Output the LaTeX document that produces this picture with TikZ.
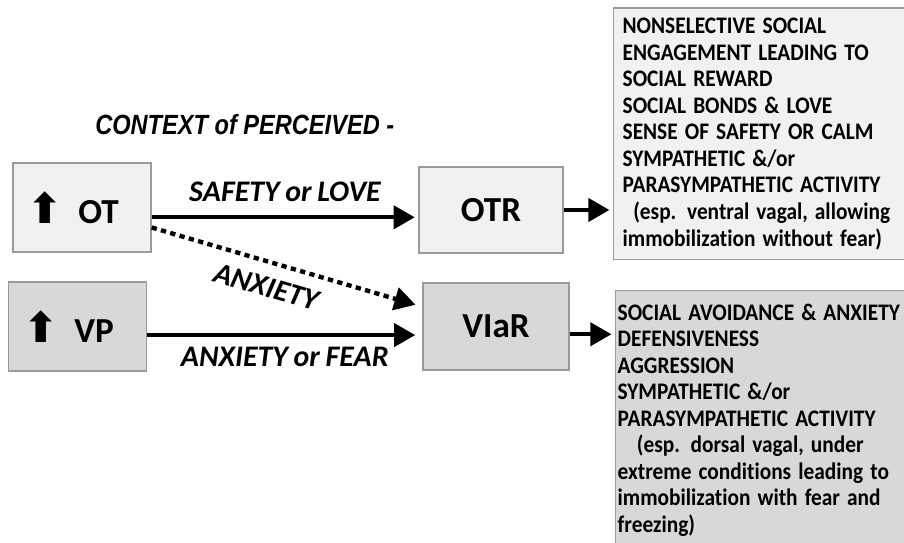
\documentclass[tikz,border=0pt]{standalone}
\usepackage{fontspec}
\setmainfont{Carlito}[WordSpace=0.85, RawFeature=-liga]
\newfontfamily\titlefont{Liberation Sans}
\newfontfamily\symfont{DejaVu Sans}
\usetikzlibrary{arrows.meta}
\definecolor{lightbox}{HTML}{F1F1F1}
\definecolor{darkbox}{HTML}{D8D8D8}
\definecolor{boxline}{HTML}{9A9A9A}
\newcommand{\uparr}{\scalebox{1.2}{\symfont\char"2B06}\hspace{0.44em}}
\begin{document}
\begin{tikzpicture}[
    hormone/.style={draw=boxline, line width=0.8pt, minimum width=2.76cm, minimum height=1.78cm,
        font=\fontsize{20}{24}\selectfont\bfseries},
    effects/.style={draw=boxline, line width=0.8pt, anchor=north west, text width=6.5cm, align=left,
        xscale=0.9, font=\fontsize{13.5}{15.1}\selectfont\bfseries},
    arr/.style={line width=2.5pt, -{Triangle[length=12pt,width=13pt]}},
    lbl/.style={font=\fontsize{17}{20}\selectfont\bfseries\itshape}
]
        \clip (0,0) rectangle (18.08,-10.86);

        % Title
        \node[anchor=base west, xscale=0.85, font=\titlefont\fontsize{15.8}{19}\selectfont\bfseries\itshape]
            (title) at (1.80,-2.70) {CONTEXT of PERCEIVED -};

        % Hormones and receptors
        \node[hormone, fill=lightbox] (OT) at (1.64,-4.15) {\uparr OT\kern10pt};
        \node[hormone, fill=darkbox] (VP) at (1.55,-6.53) {\uparr VP\kern10pt};
        \node[hormone, fill=lightbox, minimum width=2.88cm, minimum height=1.72cm] (OTR) at (9.82,-4.2) {OTR};
        \node[hormone, fill=darkbox, minimum width=2.92cm, minimum height=1.74cm] (VIaR) at (9.92,-6.53) {VIaR};

        % Outcomes
        \node[effects, fill=lightbox, inner xsep=5.7pt, inner ysep=5.7pt] (pos) at (12.26,-0.15) {NONSELECTIVE SOCIAL\\
            ENGAGEMENT LEADING TO\\ SOCIAL REWARD\\ SOCIAL BONDS \& LOVE\\ SENSE OF SAFETY OR CALM\\
            SYMPATHETIC \&/or\\ PARASYMPATHETIC ACTIVITY\\ \hspace*{0.5em}(esp. ventral vagal, allowing\\
            immobilization without fear)};
        \node[effects, fill=darkbox, inner xsep=1.3pt, inner ysep=7.4pt] (neg) at (12.30,-5.80) {SOCIAL AVOIDANCE \& ANXIETY\\
            DEFENSIVENESS\\ AGGRESSION\\ SYMPATHETIC \&/or\\ PARASYMPATHETIC ACTIVITY\\
            \hspace*{0.9em}(esp. dorsal vagal, under\\ extreme conditions leading to\\
            immobilization with fear and\\ freezing)};

        % Context arrows
        \draw[arr, shorten >=2pt] (OT.352) -- node[lbl, midway, above=4pt] {SAFETY or LOVE} (OT.352 -| OTR.west);
        \draw[arr, shorten >=4pt] (VP.353) -- node[lbl, midway, below=2.5pt] {ANXIETY or FEAR} (VP.353 -| VIaR.west);
        \draw[arr, dash pattern=on 3pt off 2.5pt, shorten >=4pt] (OT.344) -- node[lbl, pos=0.45, sloped, below=4pt] {ANXIETY} (VIaR.165);

        % Receptor effects
        \draw[arr, shorten >=2pt] (OTR.east) -- (OTR.east -| pos.west);
        \draw[arr, shorten >=2pt] (VIaR.354) -- (VIaR.354 -| neg.west);

\end{tikzpicture}
\end{document}
